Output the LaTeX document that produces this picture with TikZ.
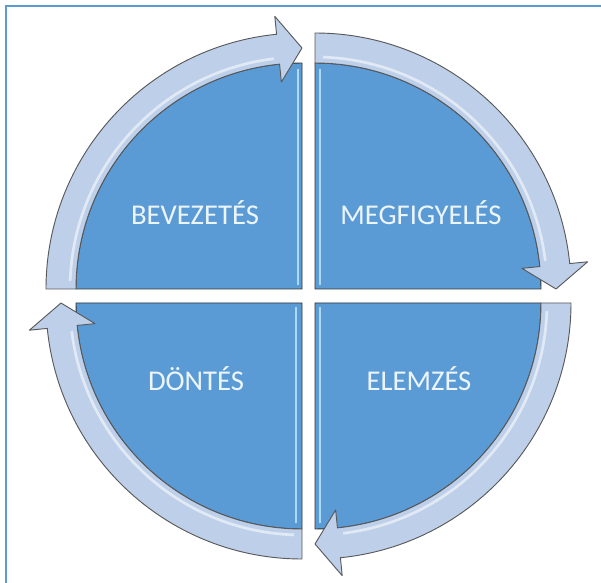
\documentclass[tikz,border=0pt]{standalone}
\usepackage{fontspec}
\setmainfont{Carlito}
\usetikzlibrary{positioning}

\definecolor{segblue}{RGB}{91,155,213}
\definecolor{arrowfill}{RGB}{190,208,233}
\definecolor{frameblue}{RGB}{91,155,213}
\definecolor{glint}{RGB}{170,218,245}
\definecolor{segtextcol}{RGB}{236,245,251}

\begin{document}
\begin{tikzpicture}[
  x=0.75pt, y=0.75pt,
  segment/.style={fill=segblue, draw=black!80, line width=0.7pt},
  cycarrow/.style={fill=arrowfill, draw=black!65, line width=0.7pt, line join=round},
  glintline/.style={draw=glint, line width=1.6pt},
  sheen/.style={draw=white, line width=2pt, opacity=0.55},
  segtext/.style={text=segtextcol, font=\fontsize{21.5}{25}\selectfont}
]
\useasboundingbox (0,0) rectangle (601,583);

% frame (top and left edge only)
\draw[frameblue, line width=2.2pt] (6,0) -- (6,577) -- (601,577);

% quadrant corners
\coordinate (TL) at (302,294);
\coordinate (TR) at (315,294);
\coordinate (BL) at (302,280);
\coordinate (BR) at (315,280);

% Segments
\draw[segment] (TL) -- ([shift={(TL)}]180:226) arc[start angle=180, end angle=90, radius=226] -- cycle;
\draw[segment] (TR) -- ([shift={(TR)}]90:226) arc[start angle=90, end angle=0, radius=226] -- cycle;
\draw[segment] (BR) -- ([shift={(BR)}]0:226) arc[start angle=0, end angle=-90, radius=226] -- cycle;
\draw[segment] (BL) -- ([shift={(BL)}]-90:226) arc[start angle=-90, end angle=-180, radius=226] -- cycle;

% Glints along the straight edges
\draw[glintline] ([shift={(-4,4)}]TL) -- ([shift={(-4,220)}]TL);
\draw[glintline] ([shift={(5,4)}]TR) -- ([shift={(5,220)}]TR);
\draw[glintline] ([shift={(5,-4)}]BR) -- ([shift={(5,-220)}]BR);
\draw[glintline] ([shift={(-6,-4)}]BL) -- ([shift={(-6,-220)}]BL);

% Cycle arrows (clockwise)
\draw[cycarrow] ([shift={(TL)}]180:256) arc[start angle=180, end angle=95.7, radius=256]
  -- ([shift={(TL)}]95.7:274) -- ([shift={(TL)}]90:241) -- ([shift={(TL)}]95.7:208)
  -- ([shift={(TL)}]95.7:226) arc[start angle=95.7, end angle=180, radius=226] -- cycle;
\draw[cycarrow] ([shift={(TR)}]90:256) arc[start angle=90, end angle=5.7, radius=256]
  -- ([shift={(TR)}]5.7:274) -- ([shift={(TR)}]0:241) -- ([shift={(TR)}]5.7:208)
  -- ([shift={(TR)}]5.7:226) arc[start angle=5.7, end angle=90, radius=226] -- cycle;
\draw[cycarrow] ([shift={(BR)}]0:256) arc[start angle=0, end angle=-84.3, radius=256]
  -- ([shift={(BR)}]-84.3:274) -- ([shift={(BR)}]-90:241) -- ([shift={(BR)}]-84.3:208)
  -- ([shift={(BR)}]-84.3:226) arc[start angle=-84.3, end angle=0, radius=226] -- cycle;
\draw[cycarrow] ([shift={(BL)}]-90:256) arc[start angle=-90, end angle=-174.3, radius=256]
  -- ([shift={(BL)}]-174.3:274) -- ([shift={(BL)}]-180:241) -- ([shift={(BL)}]-174.3:208)
  -- ([shift={(BL)}]-174.3:226) arc[start angle=-174.3, end angle=-90, radius=226] -- cycle;

% Sheen on the arrows
\draw[sheen] ([shift={(TL)}]178:232) arc[start angle=178, end angle=97, radius=232];
\draw[sheen] ([shift={(TR)}]88:232) arc[start angle=88, end angle=7, radius=232];
\draw[sheen] ([shift={(BR)}]-2:232) arc[start angle=-2, end angle=-83, radius=232];
\draw[sheen] ([shift={(BL)}]-92:232) arc[start angle=-92, end angle=-173, radius=232];

% Labels
\node[segtext] (intro) at ([shift={(-107,76)}]TL) {BEVEZETÉS};
\node[segtext] (observe) at ([shift={(106,76)}]TR) {MEGFIGYELÉS};
\node[segtext] (analyse) at ([shift={(104,-76)}]BR) {ELEMZÉS};
\node[segtext] (decide) at ([shift={(-106,-76)}]BL) {DÖNTÉS};

\end{tikzpicture}
\end{document}
